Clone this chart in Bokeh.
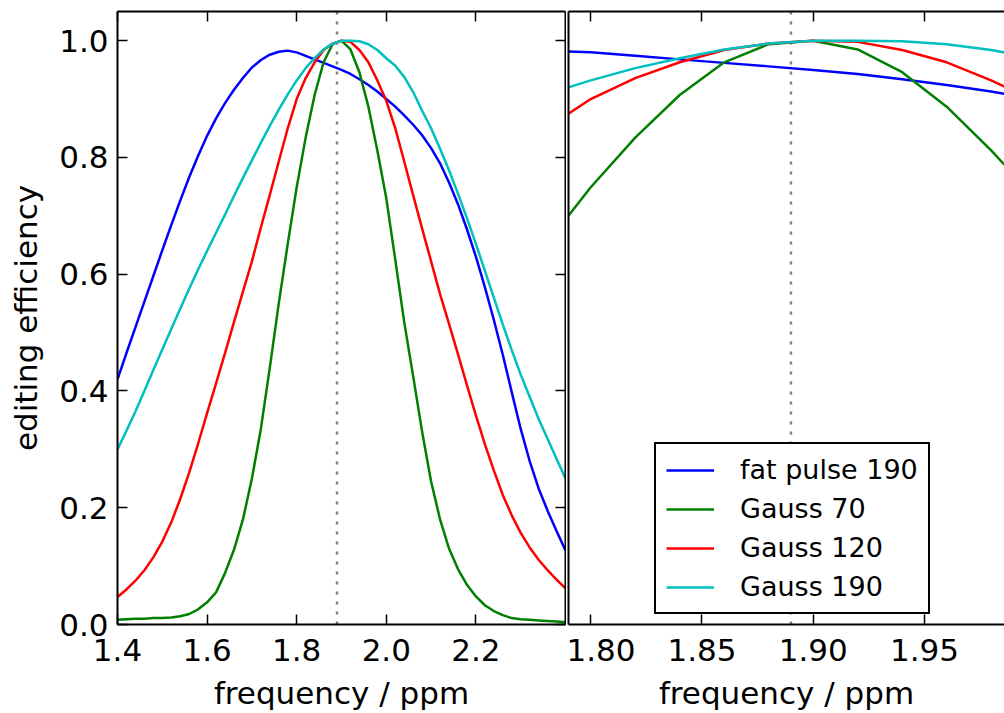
from bokeh.plotting import figure
from bokeh.layouts import row
from bokeh.models import (Range1d, LinearAxis, FixedTicker, PrintfTickFormatter,
                          CustomJSTickFormatter, Span, Legend, LegendItem)
from bokeh.embed import file_html
from bokeh.resources import INLINE

# ---------------- data ----------------
freq = [1.40, 1.42, 1.44, 1.46, 1.48, 1.50, 1.52, 1.54, 1.56, 1.58,
        1.60, 1.62, 1.64, 1.66, 1.68, 1.70, 1.72, 1.74, 1.76, 1.78,
        1.80, 1.82, 1.84, 1.86, 1.88, 1.90, 1.92, 1.94, 1.96, 1.98,
        2.00, 2.02, 2.04, 2.06, 2.08, 2.10, 2.12, 2.14, 2.16, 2.18,
        2.20, 2.22, 2.24, 2.26, 2.28, 2.30, 2.32, 2.34, 2.36, 2.38, 2.40]

fat_pulse_190 = [0.420, 0.465, 0.509, 0.553, 0.597, 0.641, 0.684, 0.726, 0.766, 0.803,
                 0.837, 0.867, 0.893, 0.916, 0.936, 0.954, 0.967, 0.976, 0.981, 0.983,
                 0.980, 0.974, 0.968, 0.962, 0.956, 0.950, 0.943, 0.934, 0.924, 0.913,
                 0.900, 0.887, 0.872, 0.856, 0.838, 0.816, 0.790, 0.757, 0.720, 0.677,
                 0.630, 0.578, 0.522, 0.462, 0.398, 0.335, 0.280, 0.233, 0.195, 0.160, 0.127]

gauss_70 = [0.008, 0.009, 0.010, 0.010, 0.011, 0.011, 0.012, 0.014, 0.018, 0.026,
            0.038, 0.055, 0.088, 0.128, 0.180, 0.250, 0.335, 0.440, 0.550, 0.652,
            0.749, 0.834, 0.907, 0.963, 0.994, 1.000, 0.985, 0.946, 0.887, 0.812,
            0.730, 0.625, 0.518, 0.425, 0.330, 0.245, 0.180, 0.130, 0.095, 0.068,
            0.048, 0.033, 0.023, 0.016, 0.011, 0.009, 0.008, 0.007, 0.006, 0.005, 0.004]

gauss_120 = [0.047, 0.060, 0.075, 0.093, 0.115, 0.142, 0.175, 0.215, 0.260, 0.310,
             0.362, 0.413, 0.465, 0.518, 0.570, 0.622, 0.680, 0.736, 0.793, 0.850,
             0.900, 0.936, 0.963, 0.984, 0.995, 1.000, 0.998, 0.984, 0.963, 0.932,
             0.897, 0.850, 0.793, 0.735, 0.678, 0.622, 0.566, 0.515, 0.463, 0.410,
             0.358, 0.309, 0.264, 0.222, 0.187, 0.157, 0.132, 0.111, 0.093, 0.077, 0.062]

gauss_190 = [0.300, 0.332, 0.365, 0.400, 0.436, 0.471, 0.506, 0.541, 0.575, 0.608,
             0.640, 0.671, 0.702, 0.734, 0.765, 0.795, 0.825, 0.854, 0.882, 0.908,
             0.932, 0.953, 0.970, 0.985, 0.995, 1.000, 1.000, 0.999, 0.994, 0.984,
             0.970, 0.957, 0.938, 0.912, 0.880, 0.850, 0.815, 0.778, 0.738, 0.696,
             0.652, 0.606, 0.560, 0.514, 0.470, 0.428, 0.390, 0.352, 0.318, 0.284, 0.250]

series_names = ["fat pulse 190", "Gauss 70", "Gauss 120", "Gauss 190"]
series_values = [fat_pulse_190, gauss_70, gauss_120, gauss_190]
series_colors = ["#0000ff", "#008000", "#ff0000", "#00bfbf"]

marker_freq = 1.89
left_xticks = [1.4, 1.6, 1.8, 2.0, 2.2]
right_xticks = [1.80, 1.85, 1.90, 1.95]
yticks = [0.0, 0.2, 0.4, 0.6, 0.8, 1.0]

FONT = "DejaVu Sans"
TICK_SIZE = "31px"
LABEL_SIZE = "31px"


def base_axis(ax, ticks):
    ax.ticker = FixedTicker(ticks=ticks)
    ax.axis_line_width = 2
    ax.axis_line_color = "black"
    ax.major_tick_in = 10
    ax.major_tick_out = 0
    ax.major_tick_line_width = 1.5
    ax.major_tick_line_color = "black"
    ax.minor_tick_line_color = None
    ax.major_label_text_font = FONT
    ax.major_label_text_color = "black"
    ax.axis_label_text_font = FONT
    ax.axis_label_text_font_style = "normal"
    ax.axis_label_text_font_size = LABEL_SIZE
    ax.axis_label_text_color = "black"


def blank_axis(ax, ticks):
    base_axis(ax, ticks)
    ax.formatter = CustomJSTickFormatter(code="return ''")
    ax.major_label_text_font_size = "0px"
    ax.major_label_standoff = 0


def make_fig(width, xr, min_left, min_right):
    p = figure(width=width, height=713, x_range=xr, y_range=Range1d(0, 1.05),
               output_backend="svg", toolbar_location=None,
               min_border_left=min_left, min_border_right=min_right,
               min_border_top=11, min_border_bottom=89,
               outline_line_color=None, background_fill_color="white",
               border_fill_color="white")
    p.xgrid.visible = False
    p.ygrid.visible = False
    return p


def style_bottom(ax, ticks, fmt):
    base_axis(ax, ticks)
    ax.formatter = PrintfTickFormatter(format=fmt)
    ax.major_label_text_font_size = TICK_SIZE
    ax.major_label_standoff = 14
    ax.axis_label = "frequency / ppm"
    ax.axis_label_standoff = 11


# ---------------- left panel ----------------
p1 = make_fig(566, Range1d(1.4, 2.4), 117, 1)
renderers1 = []
for name, vals, col in zip(series_names, series_values, series_colors):
    renderers1.append(p1.line(freq, vals, line_color=col, line_width=2.5))
p1.add_layout(Span(location=marker_freq, dimension="height", line_color="#808080",
                   line_dash="3 7", line_width=2.5, level="underlay"))

style_bottom(p1.xaxis[0], left_xticks, "%.1f")

ya = p1.yaxis[0]
base_axis(ya, yticks)
ya.formatter = PrintfTickFormatter(format="%.1f")
ya.major_label_text_font_size = TICK_SIZE
ya.major_label_standoff = 9
ya.axis_label = "editing efficiency"
ya.axis_label_standoff = 12

top1 = LinearAxis()
blank_axis(top1, left_xticks)
p1.add_layout(top1, "above")
right1 = LinearAxis()
blank_axis(right1, yticks)
p1.add_layout(right1, "right")

# ---------------- right panel ----------------
p2 = make_fig(438, Range1d(1.79, 1.986), 2, 0)
renderers2 = []
for name, vals, col in zip(series_names, series_values, series_colors):
    renderers2.append(p2.line(freq, vals, line_color=col, line_width=2.5))
p2.add_layout(Span(location=marker_freq, dimension="height", line_color="#808080",
                   line_dash="3 7", line_width=2.5, level="underlay"))

style_bottom(p2.xaxis[0], right_xticks, "%.2f")

yb = p2.yaxis[0]
blank_axis(yb, [])

top2 = LinearAxis()
blank_axis(top2, right_xticks)
p2.add_layout(top2, "above")

legend = Legend(items=[LegendItem(label=n, renderers=[r]) for n, r in zip(series_names, renderers2)],
                location=(86, 10))
legend.border_line_color = "black"
legend.border_line_alpha = 1.0
legend.border_line_width = 2
legend.background_fill_color = "white"
legend.background_fill_alpha = 1.0
legend.padding = 10
legend.spacing = 8
legend.glyph_width = 48
legend.glyph_height = 30
legend.label_height = 30
legend.label_standoff = 26
legend.label_text_font = FONT
legend.label_text_font_size = "27px"
legend.label_text_color = "black"
p2.add_layout(legend, "center")

layout = row(p1, p2)
open("out.html", "w").write(file_html(layout, INLINE))
